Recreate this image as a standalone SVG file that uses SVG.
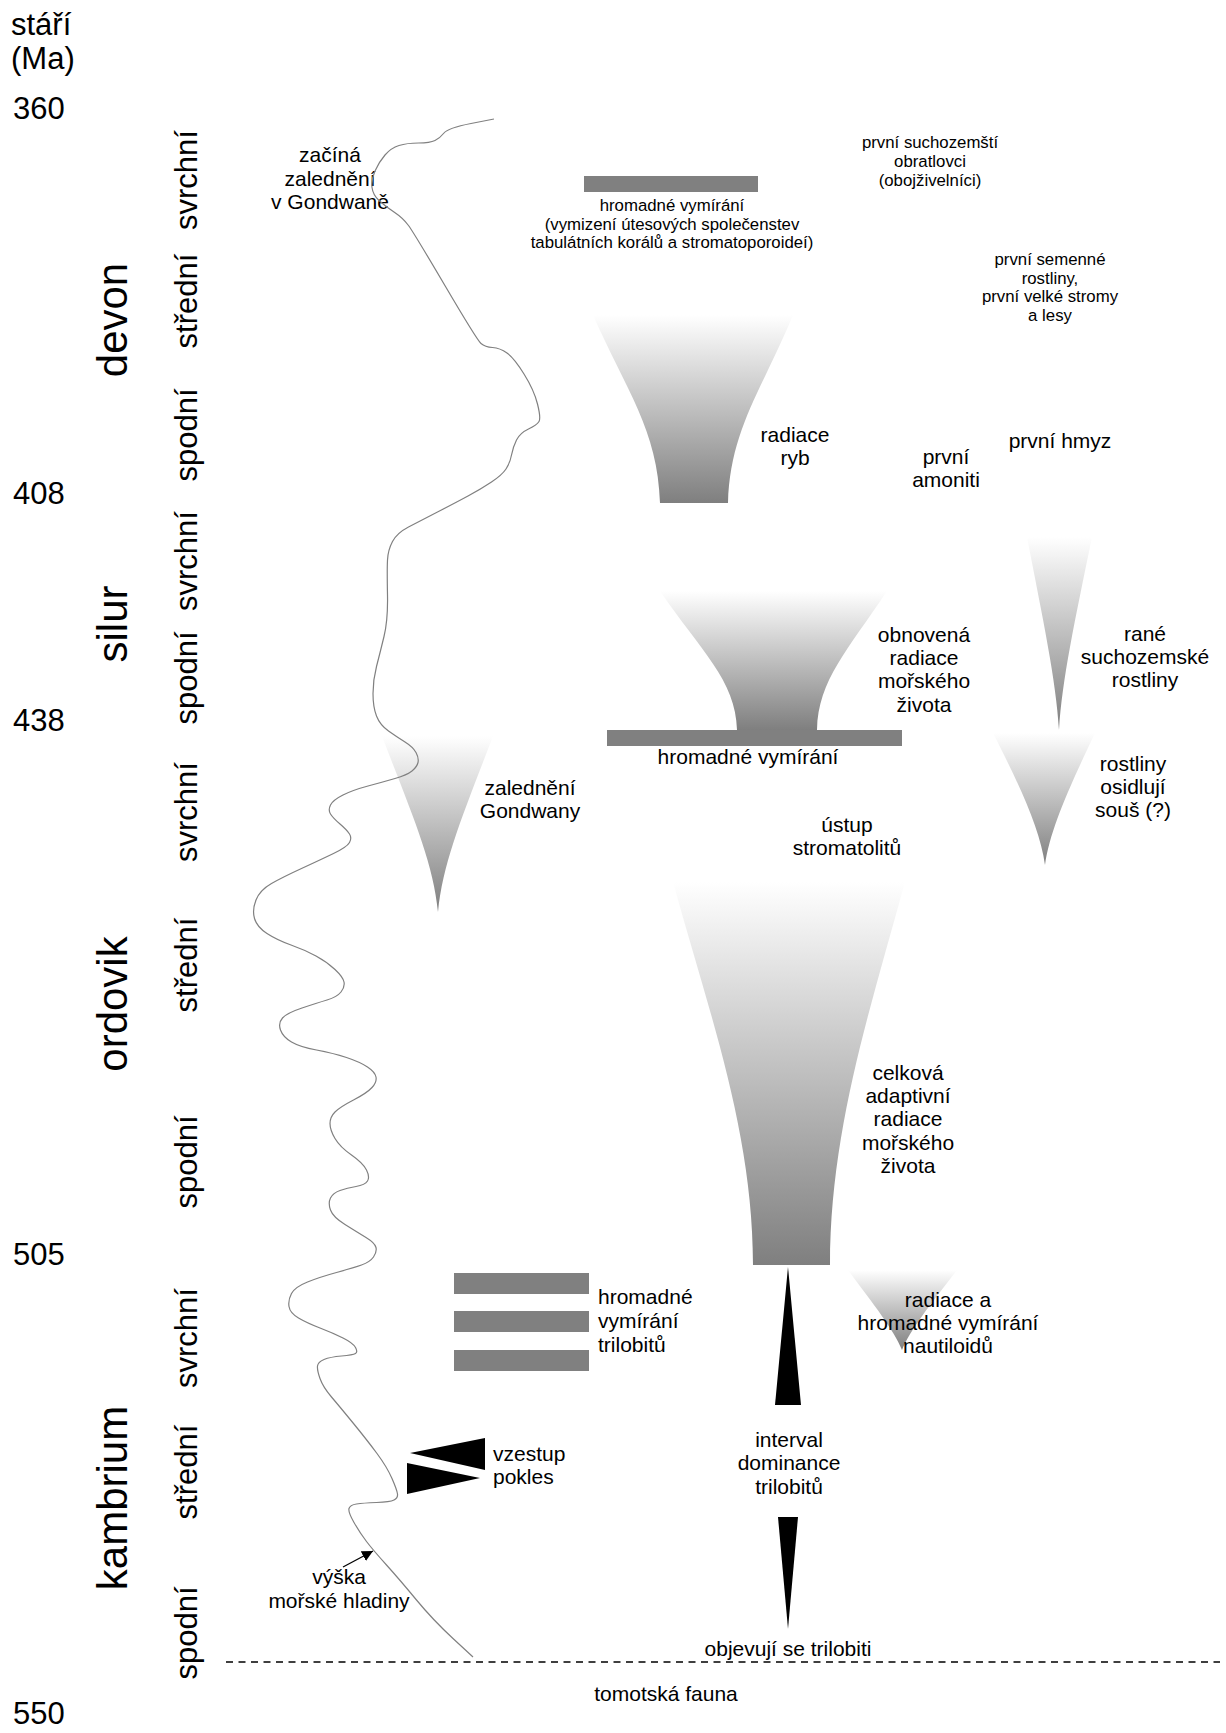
<svg xmlns="http://www.w3.org/2000/svg" width="1226" height="1733" viewBox="0 0 1226 1733">
<style>
text{font-family:"Liberation Sans",Arial,sans-serif;fill:#000}
.ax{font-size:31px}
.era{font-size:42px;text-anchor:middle}
.sub{font-size:31px;text-anchor:middle}
.m{font-size:21px;text-anchor:middle}
.l{font-size:21px}
.s{font-size:16.8px;text-anchor:middle}
.bar{fill:#808080}
.fun{fill:url(#g)}
.blk{fill:#000}
</style>
<defs>
<linearGradient id="g" x1="0" y1="0" x2="0" y2="1">
<stop offset="0" stop-color="#ffffff"/>
<stop offset="1" stop-color="#7f7f7f"/>
</linearGradient>
<marker id="ah" viewBox="0 0 10 10" refX="10" refY="5" markerWidth="11" markerHeight="11" markerUnits="userSpaceOnUse" orient="auto">
<path d="M0,0 L10,5 L0,10 Z" fill="#000"/>
</marker>
</defs>
<rect width="1226" height="1733" fill="#fff"/>

<g id="axis">
<text class="ax" x="11" y="35">stáří</text>
<text class="ax" x="11" y="69">(Ma)</text>
<text class="ax" x="13" y="119">360</text>
<text class="ax" x="13" y="504">408</text>
<text class="ax" x="13" y="731">438</text>
<text class="ax" x="13" y="1265">505</text>
<text class="ax" x="13" y="1724">550</text>
</g>

<g id="periods">
<text class="era" transform="translate(127,320) rotate(-90)">devon</text>
<text class="era" transform="translate(127,624) rotate(-90)">silur</text>
<text class="era" transform="translate(127,1004) rotate(-90)">ordovik</text>
<text class="era" transform="translate(127,1498) rotate(-90)">kambrium</text>
<text class="sub" transform="translate(197,180) rotate(-90)">svrchní</text>
<text class="sub" transform="translate(197,301) rotate(-90)">střední</text>
<text class="sub" transform="translate(197,435) rotate(-90)">spodní</text>
<text class="sub" transform="translate(197,561) rotate(-90)">svrchní</text>
<text class="sub" transform="translate(197,678) rotate(-90)">spodní</text>
<text class="sub" transform="translate(197,812) rotate(-90)">svrchní</text>
<text class="sub" transform="translate(197,965) rotate(-90)">střední</text>
<text class="sub" transform="translate(197,1162) rotate(-90)">spodní</text>
<text class="sub" transform="translate(197,1338) rotate(-90)">svrchní</text>
<text class="sub" transform="translate(197,1472) rotate(-90)">střední</text>
<text class="sub" transform="translate(197,1633) rotate(-90)">spodní</text>
</g>

<g id="glaciation-start">
<text class="m" x="330" y="162">začíná</text>
<text class="m" x="330" y="186">zalednění</text>
<text class="m" x="330" y="209">v Gondwaně</text>
</g>

<g id="devon-extinction">
<rect class="bar" x="584" y="176" width="174" height="16"/>
<text class="s" x="672" y="211">hromadné vymírání</text>
<text class="s" x="672" y="229.5">(vymizení útesových společenstev</text>
<text class="s" x="672" y="248">tabulátních korálů a stromatoporoideí)</text>
</g>

<g id="first-tetrapods">
<text class="s" x="930" y="148">první suchozemští</text>
<text class="s" x="930" y="167">obratlovci</text>
<text class="s" x="930" y="186">(obojživelníci)</text>
</g>

<g id="first-seed-plants">
<text class="s" x="1050" y="265">první semenné</text>
<text class="s" x="1050" y="283.5">rostliny,</text>
<text class="s" x="1050" y="302">první velké stromy</text>
<text class="s" x="1050" y="320.5">a lesy</text>
</g>

<g id="fish-radiation">
<path class="fun" d="M593,315 L793,315 C762,390 730,430 728,503 L660,503 C658,430 626,390 593,315 Z"/>
<text class="m" x="795" y="442">radiace</text>
<text class="m" x="795" y="465">ryb</text>
</g>

<g id="first-ammonites">
<text class="m" x="946" y="464">první</text>
<text class="m" x="946" y="487">amoniti</text>
</g>

<g id="first-insects">
<text class="m" x="1060" y="448">první hmyz</text>
</g>

<g id="silurian-radiation">
<path class="fun" d="M660,591 L887,591 C848,650 818,680 817,730 L737,730 C736,680 700,650 660,591 Z"/>
<text class="m" x="924" y="642">obnovená</text>
<text class="m" x="924" y="665">radiace</text>
<text class="m" x="924" y="688">mořského</text>
<text class="m" x="924" y="712">života</text>
</g>

<g id="early-land-plants">
<path class="fun" d="M1027,537 L1092,537 C1075,620 1062,680 1059,730 C1056,680 1043,620 1027,537 Z"/>
<text class="m" x="1145" y="641">rané</text>
<text class="m" x="1145" y="664">suchozemské</text>
<text class="m" x="1145" y="687">rostliny</text>
</g>

<g id="ordovician-extinction">
<rect class="bar" x="607" y="730" width="295" height="16"/>
<text class="m" x="748" y="764">hromadné vymírání</text>
</g>

<g id="gondwana-glaciation">
<path class="fun" d="M382,736 L493,736 C465,810 443,860 438,912 C433,860 410,810 382,736 Z"/>
<text class="m" x="530" y="795">zalednění</text>
<text class="m" x="530" y="818">Gondwany</text>
</g>

<g id="plants-colonise">
<path class="fun" d="M993,733 L1095,733 C1068,790 1050,830 1045,865 C1040,830 1022,790 993,733 Z"/>
<text class="m" x="1133" y="771">rostliny</text>
<text class="m" x="1133" y="794">osidlují</text>
<text class="m" x="1133" y="817">souš (?)</text>
</g>

<g id="stromatolite-retreat">
<text class="m" x="847" y="832">ústup</text>
<text class="m" x="847" y="855">stromatolitů</text>
</g>

<g id="ordovician-radiation">
<path class="fun" d="M673,882 L905,882 C870,1010 830,1130 830,1265 L753,1265 C753,1130 708,1010 673,882 Z"/>
<text class="m" x="908" y="1080">celková</text>
<text class="m" x="908" y="1103">adaptivní</text>
<text class="m" x="908" y="1126">radiace</text>
<text class="m" x="908" y="1150">mořského</text>
<text class="m" x="908" y="1173">života</text>
</g>

<g id="trilobite-extinctions">
<rect class="bar" x="454" y="1273" width="135" height="21"/>
<rect class="bar" x="454" y="1311" width="135" height="21"/>
<rect class="bar" x="454" y="1350" width="135" height="21"/>
<text class="l" x="598" y="1304">hromadné</text>
<text class="l" x="598" y="1328">vymírání</text>
<text class="l" x="598" y="1352">trilobitů</text>
</g>

<g id="nautiloids">
<path class="fun" d="M848,1270 L957,1270 C930,1305 910,1330 902,1350 C894,1330 874,1305 848,1270 Z"/>
<text class="m" x="948" y="1307">radiace a</text>
<text class="m" x="948" y="1330">hromadné vymírání</text>
<text class="m" x="948" y="1353">nautiloidů</text>
</g>

<g id="trilobite-dominance">
<path class="blk" d="M788,1267 L801,1405 L775,1405 Z"/>
<path class="blk" d="M778,1517 L798,1517 L788,1629 Z"/>
<text class="m" x="789" y="1447">interval</text>
<text class="m" x="789" y="1470">dominance</text>
<text class="m" x="789" y="1494">trilobitů</text>
</g>

<g id="sea-level-change">
<path class="blk" d="M410,1453 L485,1438 L485,1470 Z"/>
<path class="blk" d="M407,1463 L480,1478 L407,1494 Z"/>
<text class="l" x="493" y="1461">vzestup</text>
<text class="l" x="493" y="1484">pokles</text>
</g>

<g id="sea-level-label">
<text class="m" x="339" y="1584">výška</text>
<text class="m" x="339" y="1608">mořské hladiny</text>
</g>

<g id="trilobites-appear">
<text class="m" x="788" y="1656">objevují se trilobiti</text>
</g>

<g id="tommotian">
<text class="m" x="666" y="1701">tomotská fauna</text>
</g>

<g id="connectors">
<path id="sea-level" fill="none" stroke="#808080" stroke-width="1.2" stroke-linejoin="round" d="M494,119 L471,123.5 Q448,128 444,133 Q440,138 435,140.5 Q430,143 418.5,143 Q407,143 399,145.5 Q391,148 385,155 Q379,162 375,171 Q371,180 372,187.5 Q373,195 379,200.5 Q385,206 394,212 Q403,218 408.5,225.5 Q414,233 445.5,286.5 Q477,340 481,343.5 Q485,347 492.5,347.5 Q500,348 507,353 Q514,358 524,374 Q534,390 537.5,404 Q541,418 539,421.5 Q537,425 528.5,429 Q520,433 516.5,440 Q513,447 511.5,455 Q510,463 506,469 Q502,475 491.5,482 Q481,489 468,496 Q455,503 437.5,512 Q420,521 408.5,527 Q397,533 392.5,541.5 Q388,550 387.5,560 Q387,570 387.5,595 Q388,620 384,636.5 Q380,653 376.5,666.5 Q373,680 373,693.5 Q373,707 376.5,716 Q380,725 388.5,731 Q397,737 405,742 Q413,747 416,752.5 Q419,758 418,762.5 Q417,767 412,771 Q407,775 395,778.5 Q383,782 368,786 Q353,790 343,795 Q333,800 330.5,805 Q328,810 330.5,814 Q333,818 340,824 Q347,830 349.5,834 Q352,838 349.5,842.5 Q347,847 333.5,853.5 Q320,860 301.5,868.5 Q283,877 271.5,883.5 Q260,890 256,900 Q252,910 254.5,918.5 Q257,927 267,933.5 Q277,940 291,945 Q305,950 316,956 Q327,962 335,969.5 Q343,977 344,982 Q345,987 341,992 Q337,997 327,1000 Q317,1003 302,1008 Q287,1013 282.5,1018 Q278,1023 280.5,1030 Q283,1037 291.5,1042 Q300,1047 316.5,1050 Q333,1053 346.5,1057.5 Q360,1062 367.5,1067 Q375,1072 376,1077 Q377,1082 372,1087.5 Q367,1093 353.5,1100 Q340,1107 335,1112 Q330,1117 330,1123.5 Q330,1130 335,1138.5 Q340,1147 351.5,1155 Q363,1163 366.5,1170 Q370,1177 367.5,1181 Q365,1185 356,1186.5 Q347,1188 340,1190.5 Q333,1193 330.5,1198 Q328,1203 330.5,1210 Q333,1217 345,1224.5 Q357,1232 366,1237.5 Q375,1243 376,1247.5 Q377,1252 373.5,1257 Q370,1262 361.5,1265 Q353,1268 336.5,1272.5 Q320,1277 307.5,1282 Q295,1287 291.5,1293.5 Q288,1300 289,1306.5 Q290,1313 298.5,1318 Q307,1323 320,1328 Q333,1333 343,1338 Q353,1343 355.5,1347.5 Q358,1352 355.5,1353.5 Q353,1355 341.5,1356 Q330,1357 324,1359.5 Q318,1362 317.5,1366 Q317,1370 320,1378.5 Q323,1387 331.5,1397 Q340,1407 353.5,1423.5 Q367,1440 377,1453.5 Q387,1467 392,1478.5 Q397,1490 397.5,1494 Q398,1498 394,1500 Q390,1502 376.5,1502.5 Q363,1503 356.5,1504 Q350,1505 349,1508.5 Q348,1512 354,1522.5 Q360,1533 366.5,1541.5 Q373,1550 386.5,1565 Q400,1580 416.5,1600 Q433,1620 453,1638.5 L473,1657"/>
<line id="arrow" x1="343" y1="1567" x2="373" y2="1551" stroke="#000" stroke-width="1.2" marker-end="url(#ah)"/>
<line id="base-line" x1="226" y1="1662" x2="1220" y2="1662" stroke="#000" stroke-width="1.5" stroke-dasharray="7 5.5"/>
</g>
</svg>
